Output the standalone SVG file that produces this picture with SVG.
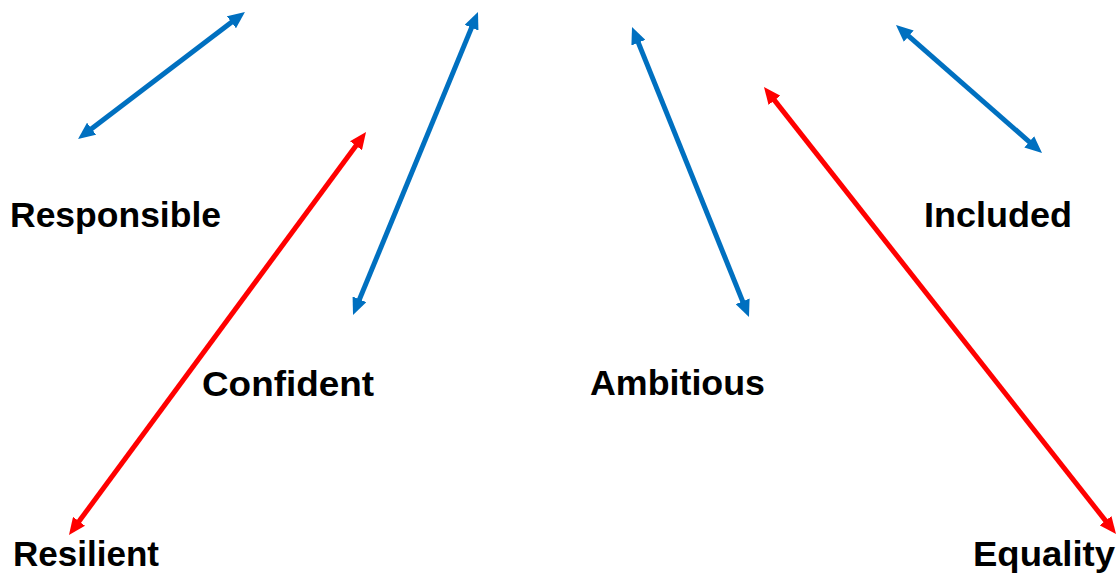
<svg xmlns="http://www.w3.org/2000/svg" width="1117" height="574" viewBox="0 0 1117 574">
<style>
.lbl{font-family:"Liberation Sans",Arial,sans-serif;font-weight:bold;font-size:35px;fill:#000}
.b{stroke:#0070C0;stroke-width:5;fill:none;marker-start:url(#hb);marker-end:url(#hb)}
.r{stroke:#FF0000;stroke-width:5;fill:none;marker-start:url(#hr);marker-end:url(#hr)}
</style>
<defs>
<marker id="hb" markerUnits="userSpaceOnUse" markerWidth="17" markerHeight="15" refX="5" refY="7.5" orient="auto-start-reverse" viewBox="0 0 17 15"><path d="M0,0 L17,7.5 L0,15 z" fill="#0070C0"/></marker>
<marker id="hr" markerUnits="userSpaceOnUse" markerWidth="17" markerHeight="15" refX="5" refY="7.5" orient="auto-start-reverse" viewBox="0 0 17 15"><path d="M0,0 L17,7.5 L0,15 z" fill="#FF0000"/></marker>
</defs>
<rect width="1117" height="574" fill="#fff"/>
<g id="connectors">
<line class="b" x1="87.6" y1="131.7" x2="235.4" y2="19.3"/>
<line class="b" x1="357.6" y1="303.9" x2="473.4" y2="23.1"/>
<line class="b" x1="636.5" y1="38.1" x2="744.5" y2="305.9"/>
<line class="b" x1="905.0" y1="32.9" x2="1033.0" y2="145.1"/>
<line class="r" x1="76.1" y1="525.3" x2="358.9" y2="141.7"/>
<line class="r" x1="771.4" y1="96.4" x2="1108.6" y2="524.6"/>
</g>
<g id="responsible"><text class="lbl" x="10" y="227" textLength="211" lengthAdjust="spacingAndGlyphs">Responsible</text></g>
<g id="included"><text class="lbl" x="924" y="227" textLength="148" lengthAdjust="spacingAndGlyphs">Included</text></g>
<g id="confident"><text class="lbl" x="202" y="396" textLength="172" lengthAdjust="spacingAndGlyphs">Confident</text></g>
<g id="ambitious"><text class="lbl" x="590" y="395" textLength="175" lengthAdjust="spacingAndGlyphs">Ambitious</text></g>
<g id="resilient"><text class="lbl" x="13" y="566" textLength="146" lengthAdjust="spacingAndGlyphs">Resilient</text></g>
<g id="equality"><text class="lbl" x="973" y="566" textLength="142" lengthAdjust="spacingAndGlyphs">Equality</text></g>
</svg>
